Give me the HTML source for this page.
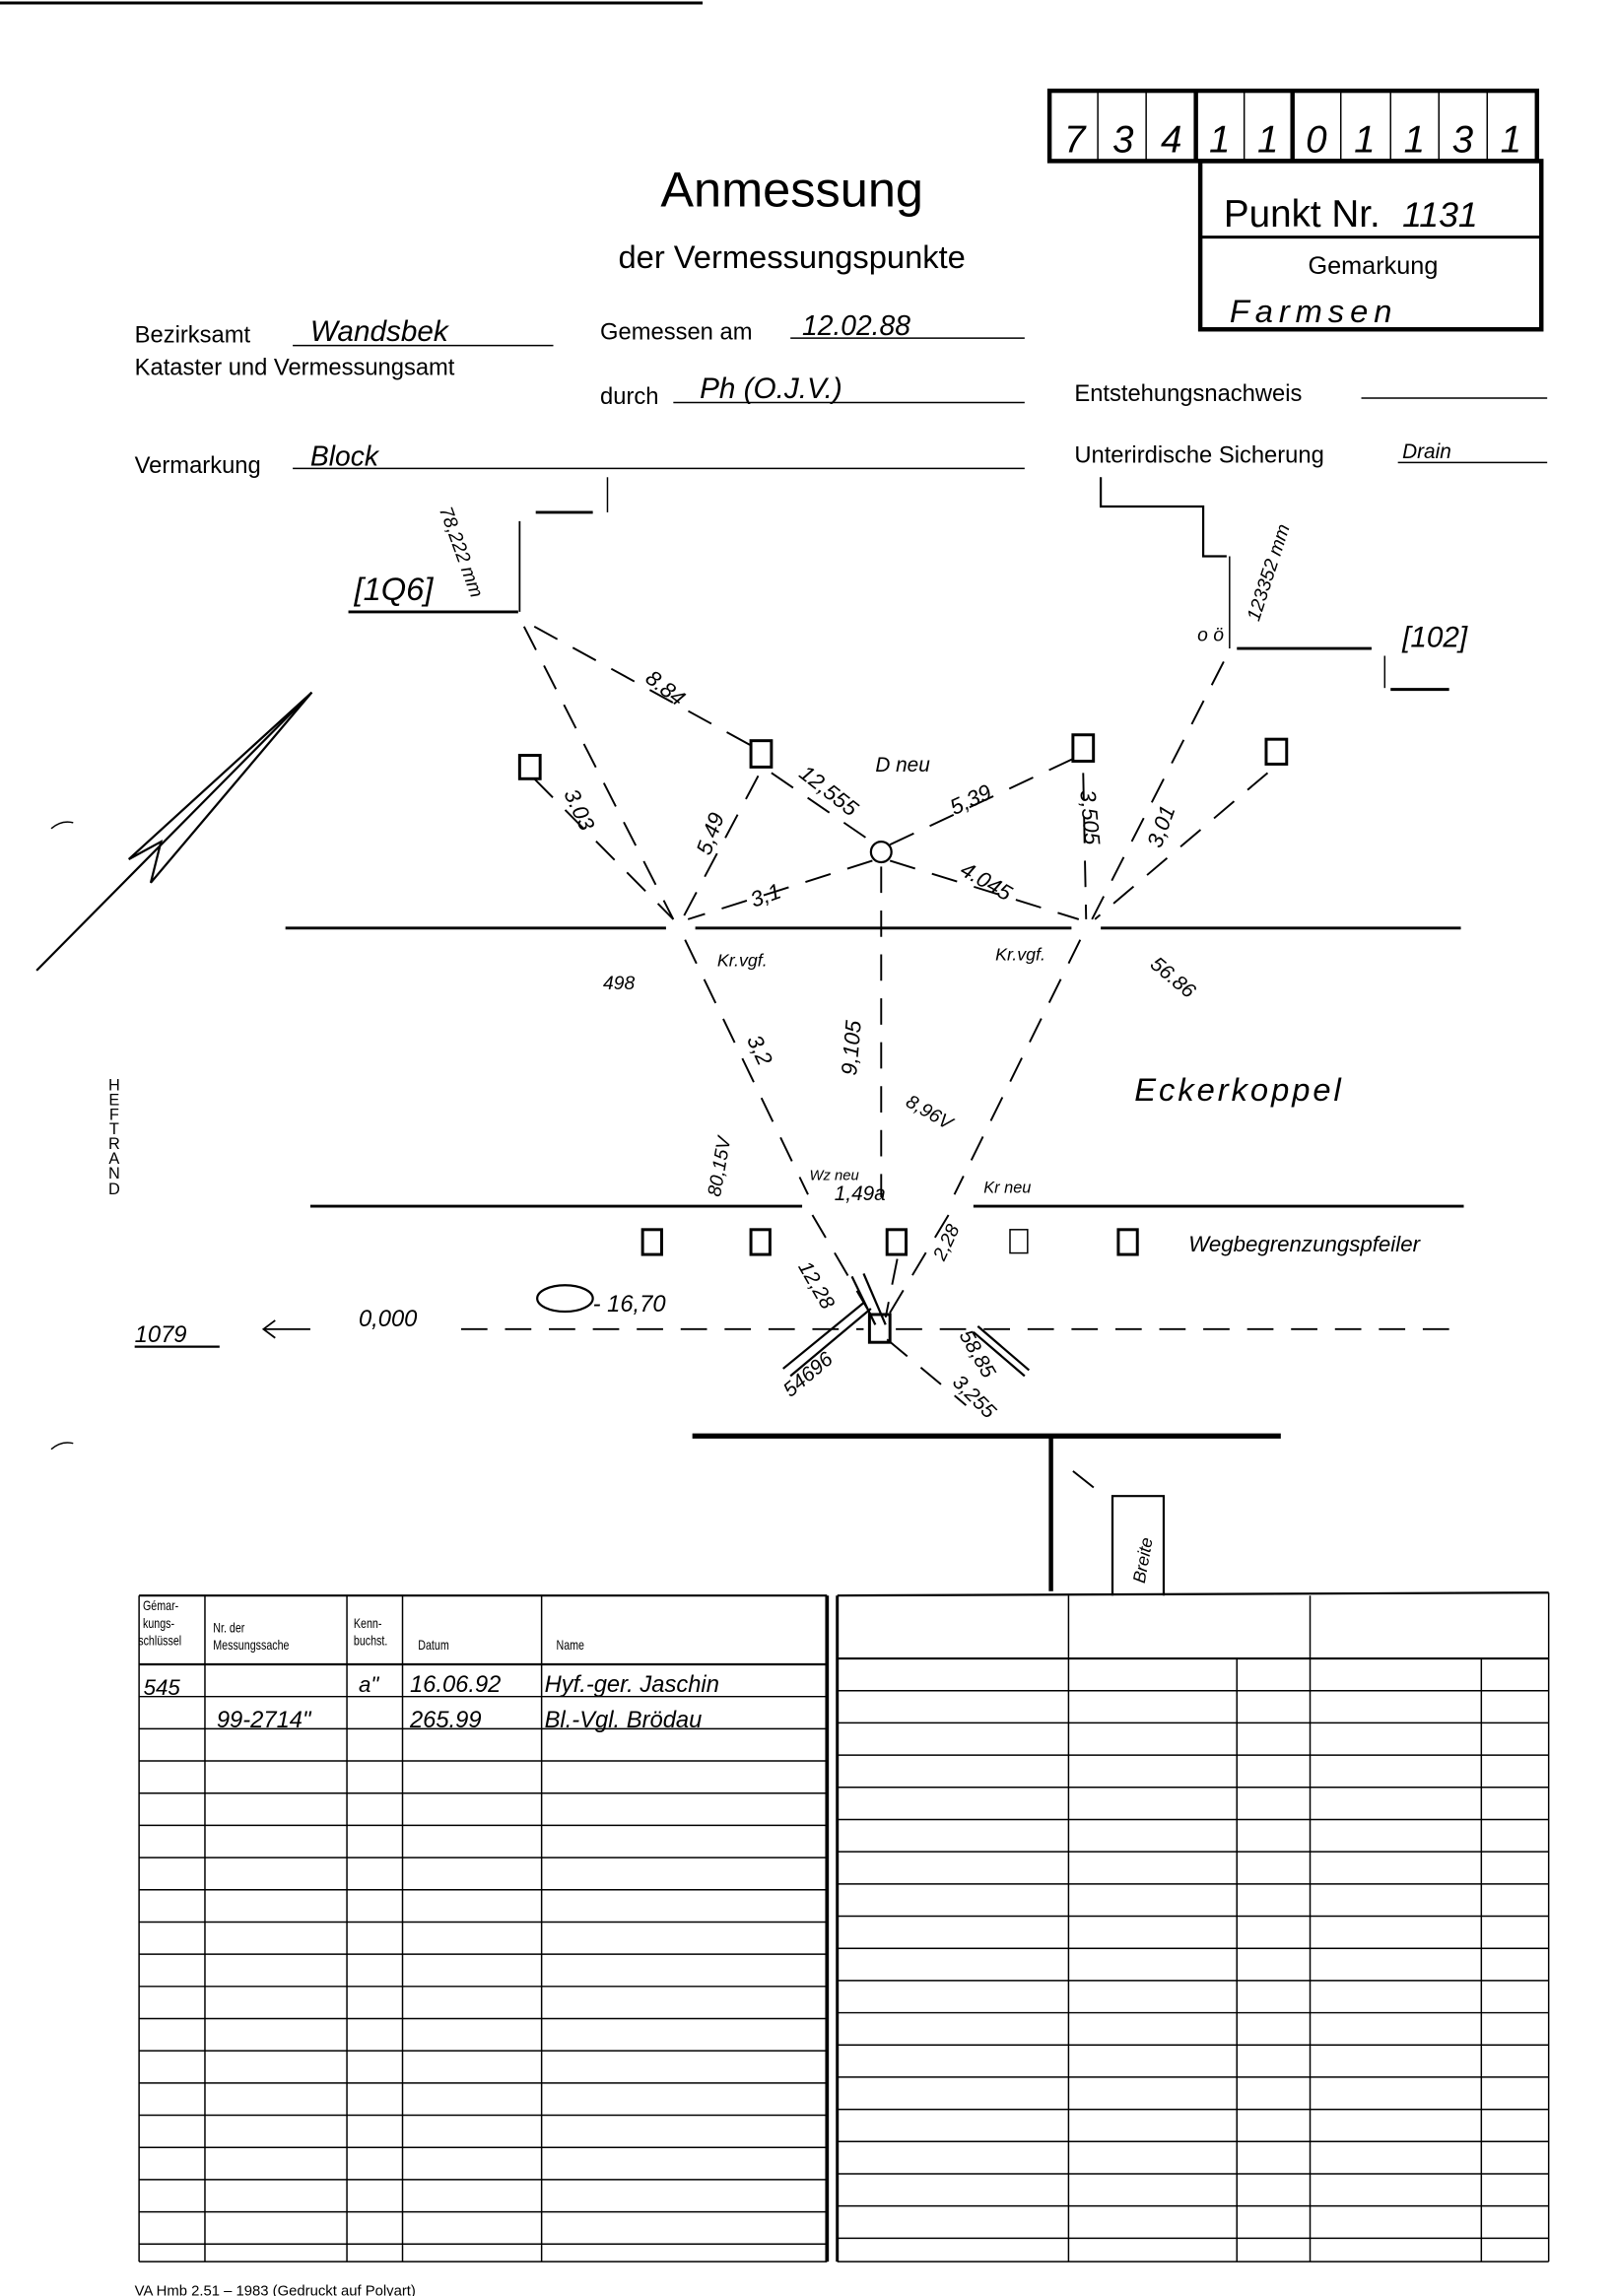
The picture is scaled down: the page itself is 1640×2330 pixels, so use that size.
<!DOCTYPE html>
<html><head><meta charset="utf-8"><style>
html,body{margin:0;padding:0;background:#fff}
svg{display:block}
text{font-family:"Liberation Sans",sans-serif;fill:#000}
.h{font-style:italic}
</style></head><body>
<svg width="1640" height="2330" viewBox="0 0 1104 1568.5" preserveAspectRatio="none" xmlns="http://www.w3.org/2000/svg">
<g stroke="#000" fill="none">
<line x1="0" y1="2" x2="480" y2="2" stroke-width="2"/>
<rect x="717" y="62" width="333" height="48" stroke-width="3"/>
<g stroke-width="1">
<line x1="750" y1="62" x2="750" y2="110"/><line x1="783" y1="62" x2="783" y2="110"/>
<line x1="850" y1="62" x2="850" y2="110"/><line x1="916" y1="62" x2="916" y2="110"/>
<line x1="950" y1="62" x2="950" y2="110"/><line x1="983" y1="62" x2="983" y2="110"/>
<line x1="1016" y1="62" x2="1016" y2="110"/>
</g>
<line x1="817" y1="62" x2="817" y2="110" stroke-width="3"/>
<line x1="883" y1="62" x2="883" y2="110" stroke-width="3"/>
<rect x="820" y="110" width="233" height="115" stroke-width="3"/>
<line x1="820" y1="162" x2="1053" y2="162" stroke-width="2"/>
<g stroke-width="1">
<line x1="200" y1="236" x2="378" y2="236"/>
<line x1="540" y1="231" x2="700" y2="231"/>
<line x1="460" y1="275" x2="700" y2="275"/>
<line x1="930" y1="272" x2="1057" y2="272"/>
<line x1="200" y1="320" x2="700" y2="320"/>
<line x1="955" y1="316" x2="1057" y2="316"/>
</g>
<line x1="366" y1="350" x2="405" y2="350" stroke-width="2"/>
<line x1="415" y1="326" x2="415" y2="350" stroke-width="1"/>
<line x1="355" y1="356" x2="355" y2="418" stroke-width="1.2"/>
<line x1="238" y1="418" x2="354" y2="418" stroke-width="2"/>
<path d="M752 326 V346 H822 V380 H838" stroke-width="1.5"/>
<line x1="840" y1="380" x2="840" y2="443" stroke-width="1"/>
<line x1="845" y1="443" x2="937" y2="443" stroke-width="2"/>
<line x1="946" y1="448" x2="946" y2="470" stroke-width="1"/>
<line x1="950" y1="471" x2="990" y2="471" stroke-width="2"/>
<line x1="195" y1="634" x2="455" y2="634" stroke-width="2"/>
<line x1="475" y1="634" x2="732" y2="634" stroke-width="2"/>
<line x1="752" y1="634" x2="998" y2="634" stroke-width="2"/>
<line x1="212" y1="824" x2="548" y2="824" stroke-width="2"/>
<line x1="665" y1="824" x2="1000" y2="824" stroke-width="2"/>
<g stroke-width="1.3" stroke-dasharray="18,12">
<line x1="358" y1="428" x2="460" y2="628"/>
<line x1="365" y1="428" x2="518" y2="512"/>
<line x1="518" y1="530" x2="466" y2="628"/>
<line x1="527" y1="528" x2="597" y2="576"/>
<line x1="608" y1="577" x2="736" y2="517"/>
<line x1="596" y1="588" x2="470" y2="628"/>
<line x1="608" y1="588" x2="737" y2="628"/>
<line x1="602" y1="592" x2="602" y2="818"/>
<line x1="740" y1="528" x2="742" y2="628"/>
<line x1="836" y1="452" x2="746" y2="628"/>
<line x1="866" y1="528" x2="748" y2="628"/>
<line x1="365" y1="532" x2="460" y2="628"/>
<line x1="468" y1="642" x2="552" y2="816"/>
<line x1="738" y1="642" x2="652" y2="816"/>
<line x1="315" y1="908" x2="590" y2="908"/>
<line x1="612" y1="908" x2="995" y2="908"/>
<line x1="555" y1="830" x2="596" y2="900"/>
<line x1="648" y1="830" x2="606" y2="900"/>
<line x1="613" y1="860" x2="605" y2="900"/>
<line x1="606" y1="915" x2="660" y2="960"/>
<line x1="733" y1="1005" x2="752" y2="1020"/>
</g>
<g stroke-width="2">
<rect x="355" y="516" width="14" height="16"/>
<rect x="513" y="506" width="14" height="18"/>
<rect x="733" y="502" width="14" height="18"/>
<rect x="865" y="505" width="14" height="17"/>
<rect x="439" y="840" width="13" height="17"/>
<rect x="513" y="840" width="13" height="17"/>
<rect x="606" y="840" width="13" height="17"/>
<rect x="690" y="840" width="12" height="16" stroke-width="1"/>
<rect x="764" y="840" width="13" height="17"/>
<rect x="594" y="898" width="14" height="19"/>
</g>
<circle cx="602" cy="582" r="7" stroke-width="1.5"/>
<ellipse cx="386" cy="887" rx="19" ry="9" stroke-width="1.5"/>
<g stroke-width="1.5">
<line x1="535" y1="935" x2="590" y2="890"/><line x1="540" y1="940" x2="595" y2="894"/>
<line x1="590" y1="870" x2="605" y2="905"/><line x1="582" y1="872" x2="598" y2="905"/>
<line x1="665" y1="910" x2="700" y2="940"/><line x1="668" y1="906" x2="703" y2="936"/>
</g>
<line x1="473" y1="981" x2="875" y2="981" stroke-width="3.5"/>
<line x1="718" y1="981" x2="718" y2="1087" stroke-width="3"/>
<path d="M760 1090 V1022 H795 V1090" stroke-width="1.5"/>
<line x1="25" y1="663" x2="213" y2="473" stroke-width="1.5"/>
<path d="M213 473 L88 587 L110 575 L103 603 Z" stroke-width="1.5"/>
<line x1="180" y1="908" x2="212" y2="908" stroke-width="1.2"/>
<path d="M188 902 L180 908 L188 914" stroke-width="1.2"/>
<line x1="92" y1="920" x2="150" y2="920" stroke-width="1.5"/>
<path d="M35 566 Q42 560 50 562" stroke-width="1"/>
<path d="M35 990 Q42 984 50 986" stroke-width="1"/>
<g stroke-width="1">
<line x1="95" y1="1090" x2="95" y2="1545"/>
<line x1="140" y1="1090" x2="140" y2="1545"/>
<line x1="237" y1="1090" x2="237" y2="1545"/>
<line x1="275" y1="1090" x2="275" y2="1545"/>
<line x1="370" y1="1090" x2="370" y2="1545"/>
<line x1="565" y1="1090" x2="565" y2="1545" stroke-width="2.5"/>
<line x1="572" y1="1090" x2="572" y2="1545" stroke-width="2"/>
<line x1="730" y1="1090" x2="730" y2="1545"/>
<line x1="895" y1="1090" x2="895" y2="1545"/>
<line x1="1058" y1="1088" x2="1058" y2="1545"/>
<line x1="845" y1="1133" x2="845" y2="1545"/>
<line x1="1012" y1="1133" x2="1012" y2="1545"/>
</g>
<g stroke-width="1.5">
<line x1="95" y1="1090" x2="565" y2="1090"/>
<line x1="572" y1="1090" x2="1058" y2="1088"/>
<line x1="95" y1="1137" x2="565" y2="1137"/>
<line x1="572" y1="1133" x2="1058" y2="1133"/>
</g>
<g stroke-width="1">
<path d="M95 1159H565M95 1181H565M95 1203H565M95 1225H565M95 1247H565M95 1269H565M95 1291H565M95 1313H565M95 1335H565M95 1357H565M95 1379H565M95 1401H565M95 1423H565M95 1445H565M95 1467H565M95 1489H565M95 1511H565M95 1533H565M95 1545H565"/>
<path d="M572 1155H1058M572 1177H1058M572 1199H1058M572 1221H1058M572 1243H1058M572 1265H1058M572 1287H1058M572 1309H1058M572 1331H1058M572 1353H1058M572 1375H1058M572 1397H1058M572 1419H1058M572 1441H1058M572 1463H1058M572 1485H1058M572 1507H1058M572 1529H1058M572 1545H1058"/>
</g>
</g>
<text x="541" y="141" font-size="34" text-anchor="middle">Anmessung</text>
<text x="541" y="183" font-size="22" text-anchor="middle">der Vermessungspunkte</text>
<text x="836" y="155" font-size="26">Punkt Nr.</text>
<text x="958" y="155" class="h" font-size="24">1131</text>
<text x="938" y="187" font-size="17" text-anchor="middle">Gemarkung</text>
<text x="840" y="220" class="h" font-size="22" letter-spacing="4">Farmsen</text>
<g class="h" font-size="26">
<text x="727" y="104">7</text><text x="760" y="104">3</text><text x="793" y="104">4</text><text x="826" y="104">1</text><text x="859" y="104">1</text><text x="892" y="104">0</text><text x="925" y="104">1</text><text x="959" y="104">1</text><text x="992" y="104">3</text><text x="1025" y="104">1</text>
</g>
<text x="92" y="234" font-size="16">Bezirksamt</text>
<text x="92" y="256" font-size="16">Kataster und Vermessungsamt</text>
<text x="410" y="232" font-size="16">Gemessen am</text>
<text x="410" y="276" font-size="16">durch</text>
<text x="734" y="274" font-size="16">Entstehungsnachweis</text>
<text x="92" y="323" font-size="16">Vermarkung</text>
<text x="734" y="316" font-size="16">Unterirdische Sicherung</text>
<text x="212" y="233" class="h" font-size="20">Wandsbek</text>
<text x="548" y="229" class="h" font-size="19">12.02.88</text>
<text x="478" y="272" class="h" font-size="20">Ph    (O.J.V.)</text>
<text x="212" y="318" class="h" font-size="19">Block</text>
<text x="958" y="313" class="h" font-size="14">Drain</text>
<text x="242" y="410" class="h" font-size="22">[1Q6]</text>
<text x="958" y="442" class="h" font-size="20">[102]</text>
<text x="818" y="438" class="h" font-size="13">o ö</text>
<text class="h" font-size="13" transform="translate(300,348) rotate(70)">78,222 mm</text>
<text class="h" font-size="13" transform="translate(860,425) rotate(-72)">123352 mm</text>
<text class="h" font-size="15" transform="translate(440,465) rotate(38)">8.84</text>
<text class="h" font-size="15" transform="translate(385,542) rotate(65)">3.03</text>
<text class="h" font-size="15" transform="translate(485,585) rotate(-70)">5,49</text>
<text class="h" font-size="15" transform="translate(545,530) rotate(38)">12,555</text>
<text x="598" y="527" class="h" font-size="14">D neu</text>
<text class="h" font-size="15" transform="translate(652,557) rotate(-25)">5,39</text>
<text class="h" font-size="15" transform="translate(515,620) rotate(-20)">3,1</text>
<text class="h" font-size="15" transform="translate(655,597) rotate(30)">4.045</text>
<text class="h" font-size="15" transform="translate(738,540) rotate(85)">3,505</text>
<text class="h" font-size="15" transform="translate(793,580) rotate(-70)">3,01</text>
<text x="412" y="676" class="h" font-size="13">498</text>
<text x="490" y="660" class="h" font-size="12">Kr.vgf.</text>
<text x="680" y="656" class="h" font-size="12">Kr.vgf.</text>
<text class="h" font-size="14" transform="translate(785,660) rotate(40)">56.86</text>
<text class="h" font-size="15" transform="translate(585,735) rotate(-85)">9,105</text>
<text class="h" font-size="15" transform="translate(510,710) rotate(65)">3,2</text>
<text x="775" y="752" class="h" font-size="22" letter-spacing="2">Eckerkoppel</text>
<text class="h" font-size="13" transform="translate(618,755) rotate(30)">8,96V</text>
<text class="h" font-size="13" transform="translate(492,818) rotate(-80)">80,15V</text>
<text x="553" y="806" class="h" font-size="10">Wz neu</text>
<text x="570" y="820" class="h" font-size="14">1,49a</text>
<text x="672" y="815" class="h" font-size="11">Kr neu</text>
<text x="812" y="855" class="h" font-size="15">Wegbegrenzungspfeiler</text>
<text class="h" font-size="14" transform="translate(545,865) rotate(60)">12,28</text>
<text class="h" font-size="13" transform="translate(645,862) rotate(-65)">2,28</text>
<text x="92" y="917" class="h" font-size="16">1079</text>
<text x="245" y="906" class="h" font-size="16">0,000</text>
<text x="405" y="896" class="h" font-size="16">- 16,70</text>
<text class="h" font-size="14" transform="translate(540,955) rotate(-40)">54696</text>
<text class="h" font-size="14" transform="translate(655,912) rotate(60)">58,85</text>
<text class="h" font-size="14" transform="translate(650,945) rotate(45)">3,255</text>
<text class="h" font-size="12" transform="translate(782,1082) rotate(-80)">Breite</text>
<g font-size="11">
<text x="78" y="745" text-anchor="middle">H</text><text x="78" y="755" text-anchor="middle">E</text><text x="78" y="765" text-anchor="middle">F</text><text x="78" y="775" text-anchor="middle">T</text><text x="78" y="785" text-anchor="middle">R</text><text x="78" y="795" text-anchor="middle">A</text><text x="78" y="805" text-anchor="middle">N</text><text x="78" y="816" text-anchor="middle">D</text>
</g>
<g font-size="9" transform="scale(0.8,1)">
<text x="122" y="1100">Gémar-</text><text x="122" y="1112">kungs-</text><text x="118" y="1124">schlüssel</text>
<text x="182" y="1115">Nr. der</text><text x="182" y="1127">Messungssache</text>
<text x="302" y="1112">Kenn-</text><text x="302" y="1124">buchst.</text>
<text x="357" y="1127">Datum</text>
<text x="475" y="1127">Name</text>
</g>
<text x="98" y="1158" class="h" font-size="15">545</text>
<text x="245" y="1156" class="h" font-size="15">a"</text>
<text x="280" y="1156" class="h" font-size="16">16.06.92</text>
<text x="372" y="1156" class="h" font-size="16">Hyf.-ger. Jaschin</text>
<text x="148" y="1180" class="h" font-size="16">99-2714"</text>
<text x="280" y="1180" class="h" font-size="16">265.99</text>
<text x="372" y="1180" class="h" font-size="16">Bl.-Vgl. Brödau</text>
<text x="92" y="1568" font-size="10">VA Hmb 2.51 – 1983 (Gedruckt auf Polyart)</text>
</svg>
</body></html>
